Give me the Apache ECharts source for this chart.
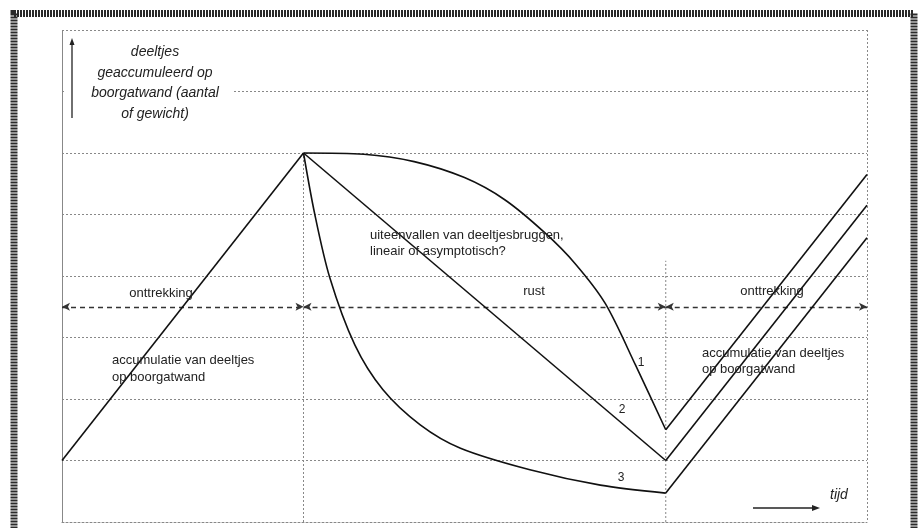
<!DOCTYPE html>
<html>
<head>
<meta charset="utf-8">
<script src="https://cdn.jsdelivr.net/npm/echarts@6/dist/echarts.min.js"></script>
<style>html,body{margin:0;padding:0;background:#fff}#c{width:923px;height:528px}</style>
</head>
<body>
<div id="c"></div>
<script>
// x: time (arbitrary units, 0..80), y: deposited particles (0..8)
var accumLeft = [[0, 1], [24, 6]];
var curve1 = [[24, 6], [30, 5.98], [35, 5.86], [40, 5.6], [44, 5.24], [48, 4.7], [51, 4.2], [54, 3.55], [57, 2.55], [60, 1.5]];
var curve2 = [[24, 6], [60, 1]];
var curve3 = [[24, 6], [25.1, 5.02], [26.6, 3.98], [29.1, 2.88], [31.9, 2.15], [35.6, 1.58], [39.6, 1.2], [46.5, 0.85], [53.5, 0.6], [60, 0.47]];
var rise1 = [[60, 1.5], [80, 5.65]];
var rise2 = [[60, 1], [80, 5.15]];
var rise3 = [[60, 0.47], [80, 4.62]];
var phaseBoundary1 = [[24, 0], [24, 6]];
var phaseBoundary2 = [[60, 0], [60, 4.25]];
var phaseArrowY = 3.5;
var phaseSegments = [[0, 24], [24, 60], [60, 80]];

var chart = echarts.init(document.getElementById('c'));
var ff = '"Liberation Sans", Arial, sans-serif';
var txtCol = '#222';
function solid(name, data, smooth) {
  return {type: 'line', name: name, data: data, smooth: smooth || false, symbol: 'none',
    lineStyle: {color: '#111', width: 1.6}, z: 5, silent: true};
}
function dotted(data) {
  return {type: 'line', data: data, symbol: 'none',
    lineStyle: {color: '#888', width: 1, type: [2, 2]}, z: 2, silent: true};
}
var option = {
  animation: false,
  grid: {left: 62, top: 30, right: 56, bottom: 6, containLabel: false},
  xAxis: {type: 'value', min: 0, max: 80, interval: 80,
    axisLine: {show: true, lineStyle: {color: '#888', type: [2, 2]}},
    axisTick: {show: false}, axisLabel: {show: false},
    splitLine: {show: true, lineStyle: {color: '#888', type: [2, 2]}}},
  yAxis: {type: 'value', min: 0, max: 8, interval: 1,
    axisLine: {show: true, lineStyle: {color: '#888', type: [2, 2]}},
    axisTick: {show: false}, axisLabel: {show: false},
    splitLine: {show: true, lineStyle: {color: '#888', type: [2, 2]}}},
  series: [
    dotted(phaseBoundary1),
    dotted(phaseBoundary2),
    solid('accumulatie', accumLeft),
    solid('1', curve1, 0.3),
    solid('2', curve2),
    solid('3', curve3, 0.3),
    solid('r1', rise1),
    solid('r2', rise2),
    solid('r3', rise3),
    {type: 'line', data: [], symbol: 'none', silent: true,
      markLine: {silent: true, symbol: ['arrow', 'arrow'], symbolSize: [6, 8],
        label: {show: false},
        lineStyle: {color: '#333', width: 1.4, type: [5, 4]},
        data: phaseSegments.map(function (s) { return [{coord: [s[0], phaseArrowY]}, {coord: [s[1], phaseArrowY]}]; })}}
  ],
  graphic: [
    {type: 'rect', shape: {x: 14, y: 13.5, width: 900, height: 520}, style: {fill: null, stroke: '#2a2a2a', lineWidth: 7, lineDash: [2, 1]}, z: 100},
    {type: 'rect', shape: {x: 66, y: 86, width: 166, height: 14}, style: {fill: '#fff'}, z: 90},
    {type: 'line', shape: {x1: 72, y1: 118, x2: 72, y2: 42}, style: {stroke: '#222', lineWidth: 1.3}, z: 100},
    {type: 'polygon', shape: {points: [[72, 38], [69.5, 45], [74.5, 45]]}, style: {fill: '#222'}, z: 100},
    {type: 'text', x: 155, y: 52, z: 100, style: {text: 'deeltjes', font: 'italic 14px ' + ff, fill: txtCol, textAlign: 'center', textVerticalAlign: 'middle'}},
    {type: 'text', x: 155, y: 73, z: 100, style: {text: 'geaccumuleerd op', font: 'italic 14px ' + ff, fill: txtCol, textAlign: 'center', textVerticalAlign: 'middle'}},
    {type: 'text', x: 155, y: 93, z: 100, style: {text: 'boorgatwand (aantal', font: 'italic 14px ' + ff, fill: txtCol, textAlign: 'center', textVerticalAlign: 'middle'}},
    {type: 'text', x: 155, y: 114, z: 100, style: {text: 'of gewicht)', font: 'italic 14px ' + ff, fill: txtCol, textAlign: 'center', textVerticalAlign: 'middle'}},
    {type: 'text', x: 161, y: 293, z: 100, style: {text: 'onttrekking', font: '13px ' + ff, fill: txtCol, textAlign: 'center', textVerticalAlign: 'middle'}},
    {type: 'text', x: 534, y: 291, z: 100, style: {text: 'rust', font: '13px ' + ff, fill: txtCol, textAlign: 'center', textVerticalAlign: 'middle'}},
    {type: 'text', x: 772, y: 291, z: 100, style: {text: 'onttrekking', font: '13px ' + ff, fill: txtCol, textAlign: 'center', textVerticalAlign: 'middle'}},
    {type: 'text', x: 370, y: 235, z: 100, style: {text: 'uiteenvallen van deeltjesbruggen,', font: '13px ' + ff, fill: txtCol, textAlign: 'left', textVerticalAlign: 'middle'}},
    {type: 'text', x: 370, y: 251, z: 100, style: {text: 'lineair of asymptotisch?', font: '13px ' + ff, fill: txtCol, textAlign: 'left', textVerticalAlign: 'middle'}},
    {type: 'text', x: 112, y: 360, z: 100, style: {text: 'accumulatie van deeltjes', font: '13px ' + ff, fill: txtCol, textAlign: 'left', textVerticalAlign: 'middle'}},
    {type: 'text', x: 112, y: 377, z: 100, style: {text: 'op boorgatwand', font: '13px ' + ff, fill: txtCol, textAlign: 'left', textVerticalAlign: 'middle'}},
    {type: 'text', x: 702, y: 353, z: 100, style: {text: 'accumulatie van deeltjes', font: '13px ' + ff, fill: txtCol, textAlign: 'left', textVerticalAlign: 'middle'}},
    {type: 'text', x: 702, y: 369, z: 100, style: {text: 'op boorgatwand', font: '13px ' + ff, fill: txtCol, textAlign: 'left', textVerticalAlign: 'middle'}},
    {type: 'text', x: 641, y: 363, z: 100, style: {text: '1', font: '12px ' + ff, fill: txtCol, textAlign: 'center', textVerticalAlign: 'middle'}},
    {type: 'text', x: 622, y: 410, z: 100, style: {text: '2', font: '12px ' + ff, fill: txtCol, textAlign: 'center', textVerticalAlign: 'middle'}},
    {type: 'text', x: 621, y: 478, z: 100, style: {text: '3', font: '12px ' + ff, fill: txtCol, textAlign: 'center', textVerticalAlign: 'middle'}},
    {type: 'text', x: 830, y: 495, z: 100, style: {text: 'tijd', font: 'italic 14px ' + ff, fill: txtCol, textAlign: 'left', textVerticalAlign: 'middle'}},
    {type: 'line', shape: {x1: 753, y1: 508, x2: 813, y2: 508}, style: {stroke: '#222', lineWidth: 1.5}, z: 100},
    {type: 'polygon', shape: {points: [[820, 508], [812, 505], [812, 511]]}, style: {fill: '#222'}, z: 100}
  ]
};
chart.setOption(option);
</script>
</body>
</html>
